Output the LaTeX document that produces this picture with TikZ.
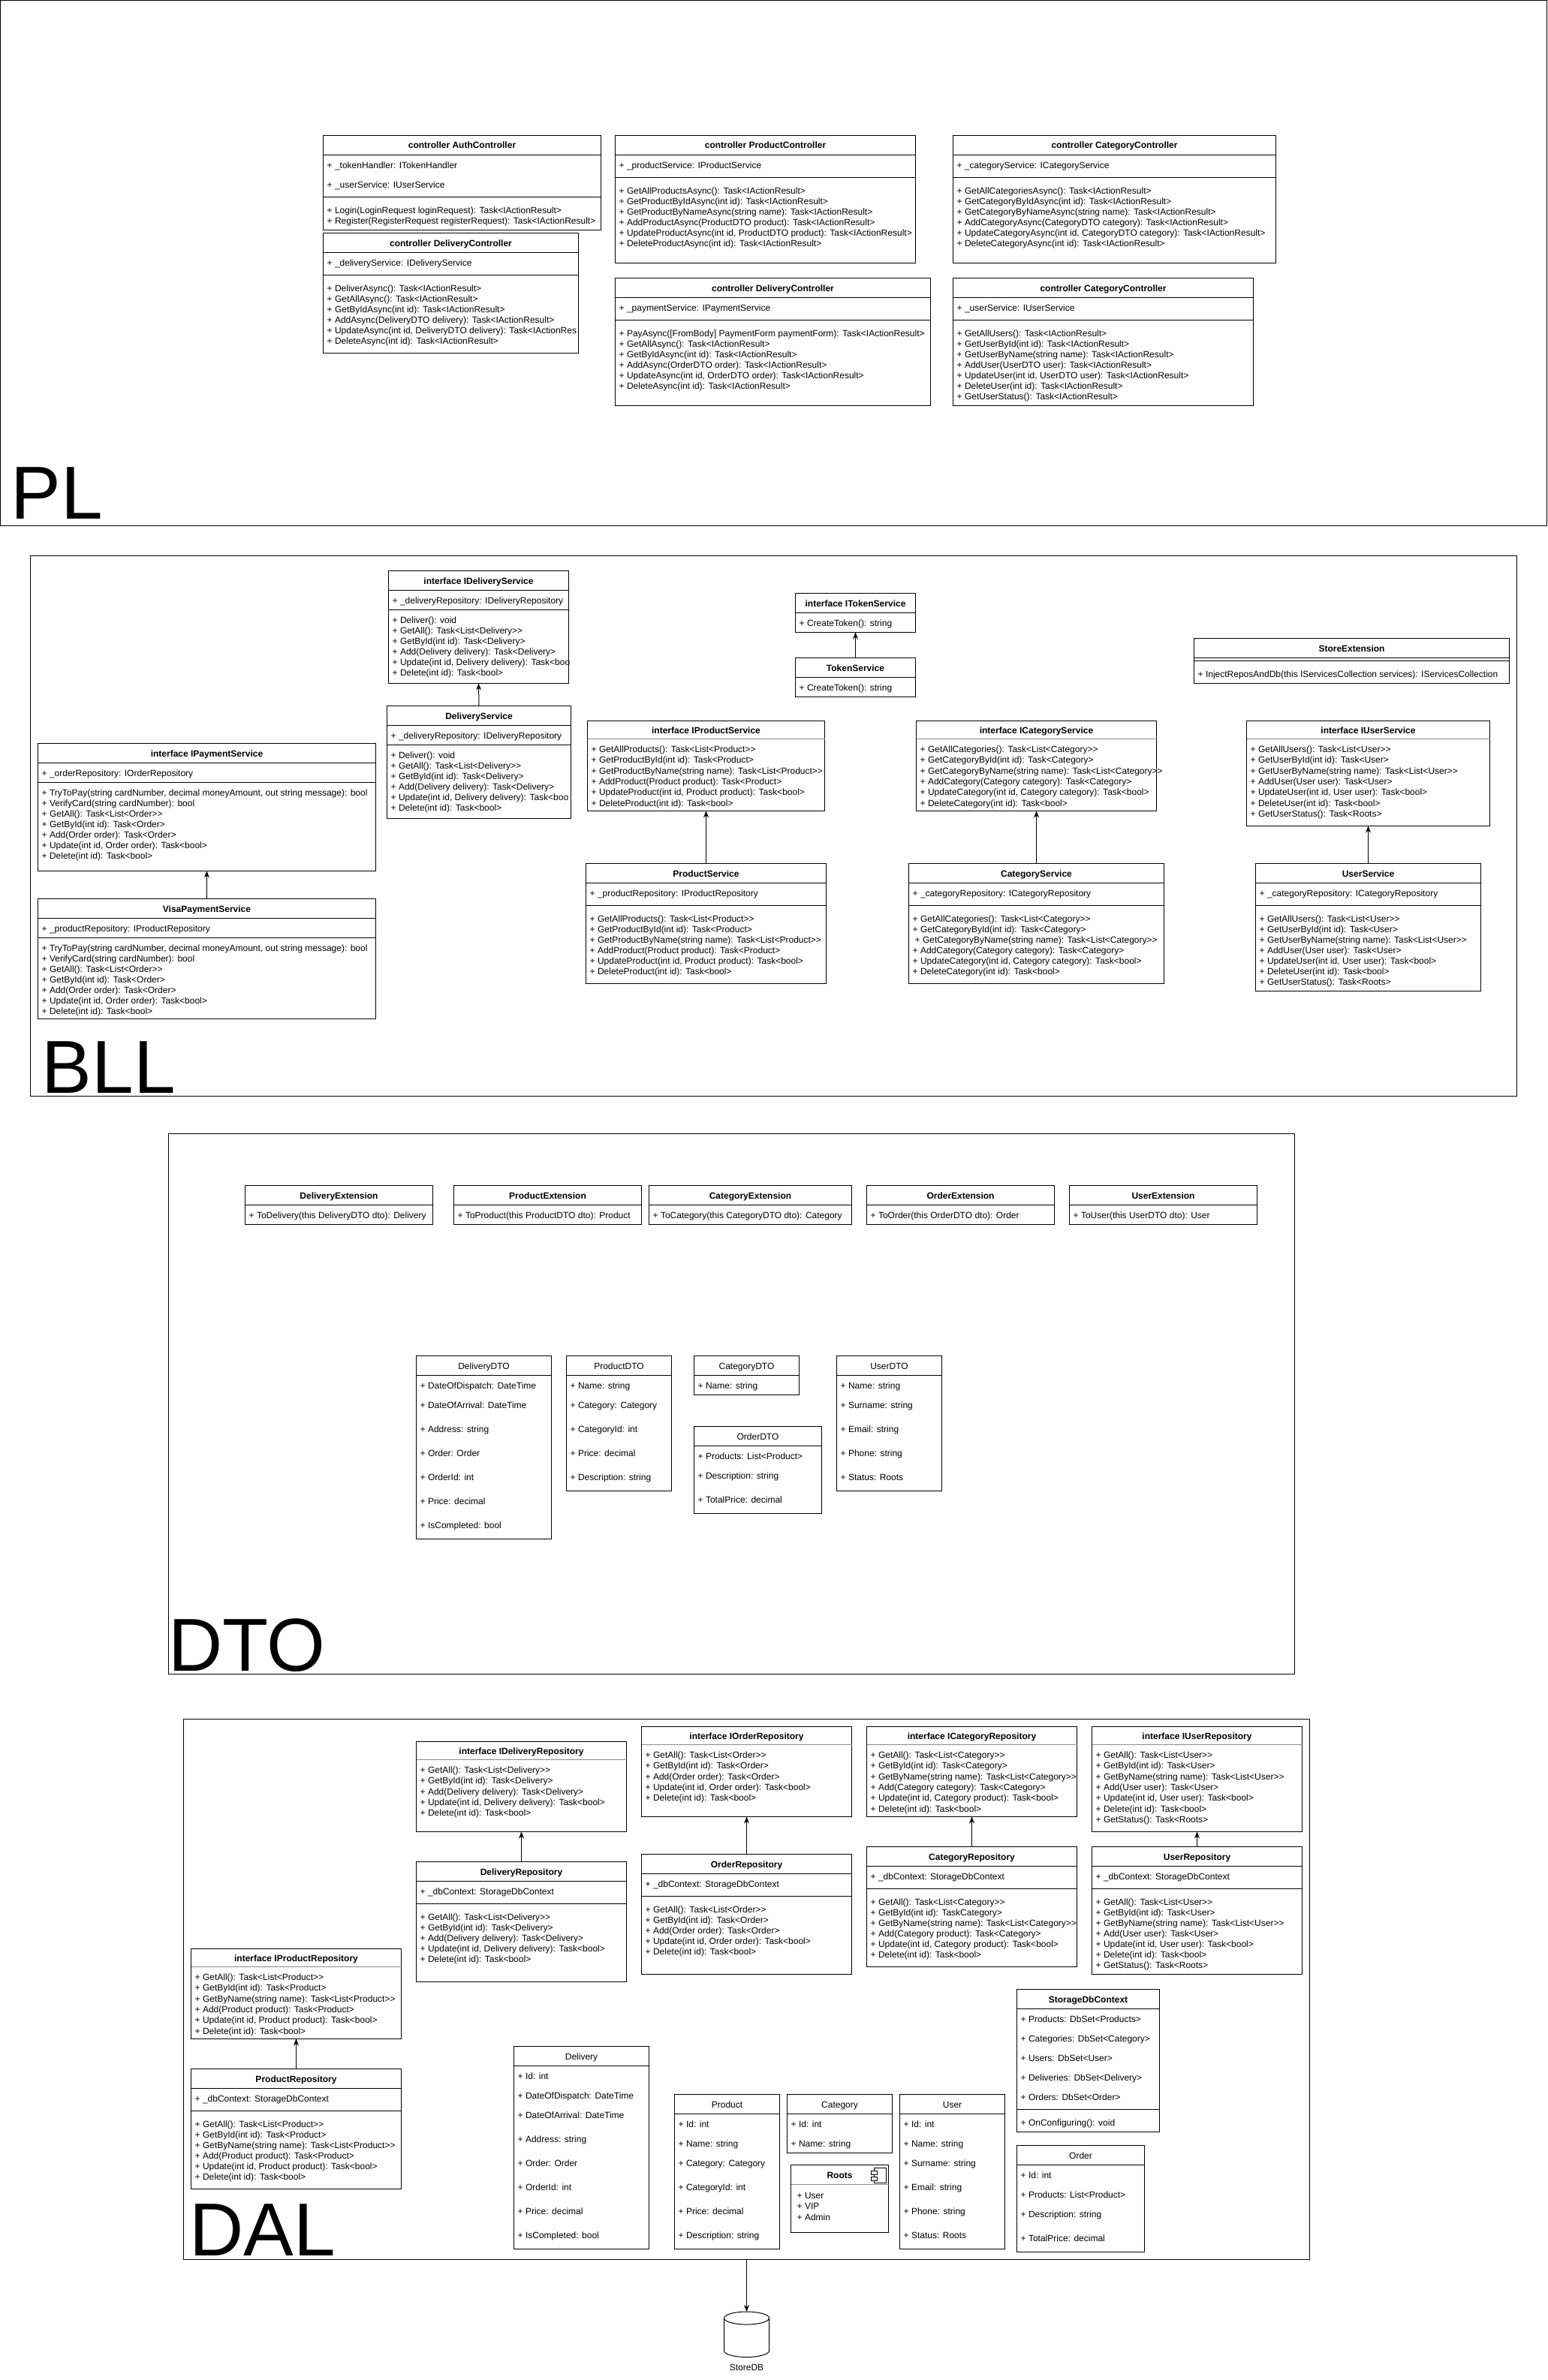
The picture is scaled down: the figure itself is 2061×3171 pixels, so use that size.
\documentclass[tikz,border=0pt]{standalone}
\usepackage{fontspec}
\usepackage{xcolor}
\usetikzlibrary{arrows.meta}
\newfontfamily\umlfont{Liberation Sans}
\definecolor{softrule}{HTML}{8C8C8C}
\tikzset{
  classbox/.style={draw, rectangle, anchor=north west, inner sep=0pt, outer sep=0pt, line width=1pt},
  layerbox/.style={classbox},
  layername/.style={anchor=base west, inner sep=0pt, font=\umlfont\fontsize{100}{100}\selectfont},
  classtitle/.style={inner sep=0pt, text height=11pt, text depth=2pt, font=\umlfont\fontsize{12}{14}\selectfont\bfseries},
  fieldtext/.style={anchor=north west, inner sep=0pt, align=left, font=\umlfont\fontsize{12}{14}\selectfont},
  blackrule/.style={line width=1pt},
  greyrule/.style={line width=1pt, color=softrule},
  realizes/.style={line width=1pt, -{Stealth[length=9pt, width=7pt]}},
}
\newcommand{\umlclass}[8]{%
  \node[classbox, minimum width=#4, minimum height=#5] (#1) at (#2,#3) {};
  \node[classtitle] (#1-title) at ([shift={(#4/2,#7/2)}]#1.north west) {#6};
  \draw[#8] ([shift={(0,#7)}]#1.north west) -- ([shift={(0,#7)}]#1.north east);
}
\newcommand{\umlrule}[2]{%
  \draw[blackrule] ([shift={(0,#2)}]#1.north west) -- ([shift={(0,#2)}]#1.north east);
}
\newcommand{\umlfield}[4][5]{%
  \node[fieldtext] (#2-f#3) at ([shift={(#1,#3-5.3)}]#2.north west) {\strut #4};
}
\begin{document}
\begin{tikzpicture}[x=1pt, y=-1pt]
  \useasboundingbox (0,0) rectangle (2061,3171);

  \node[layerbox, minimum width=2060, minimum height=700] (plarea) at (0.5,0.5) {};
  \node[layername] (plname) at (14.5,691.5) {PL};
  \node[layerbox, minimum width=1980, minimum height=720] (bllarea) at (40.5,740.5) {};
  \node[layername] (bllname) at (55.5,1456) {BLL};
  \node[layerbox, minimum width=1500, minimum height=720] (dtoarea) at (224.5,1510.5) {};
  \node[layername] (dtoname) at (224,2226) {DTO};
  \node[layerbox, minimum width=1500, minimum height=720] (dalarea) at (244.5,2290.5) {};
  \node[layername] (dalname) at (252,3005.5) {DAL};

  \umlclass{authctrl}{430.5}{180.5}{370}{126}{controller AuthController}{26}{blackrule}
  \umlrule{authctrl}{82}
  \umlfield{authctrl}{39.5}{+ \_tokenHandler: ITokenHandler\\[12pt]+ \_userService: IUserService}
  \umlfield{authctrl}{99.5}{+ Login(LoginRequest loginRequest): Task<IActionResult>\\+ Register(RegisterRequest registerRequest): Task<IActionResult>}

  \umlclass{deliveryctrl}{430.5}{310.5}{340}{160}{controller DeliveryController}{26}{blackrule}
  \umlrule{deliveryctrl}{56}
  \umlfield{deliveryctrl}{39.5}{+ \_deliveryService: IDeliveryService}
  \umlfield{deliveryctrl}{73.5}{+ DeliverAsync(): Task<IActionResult>\\+ GetAllAsync(): Task<IActionResult>\\+ GetByIdAsync(int id): Task<IActionResult>\\+ AddAsync(DeliveryDTO delivery): Task<IActionResult>\\+ UpdateAsync(int id, DeliveryDTO delivery): Task<IActionRes\\+ DeleteAsync(int id): Task<IActionResult>}

  \umlclass{productctrl}{819.5}{180.5}{400}{170}{controller ProductController}{26}{blackrule}
  \umlrule{productctrl}{56}
  \umlfield{productctrl}{39.5}{+ \_productService: IProductService}
  \umlfield{productctrl}{73.5}{+ GetAllProductsAsync(): Task<IActionResult>\\+ GetProductByIdAsync(int id): Task<IActionResult>\\+ GetProductByNameAsync(string name): Task<IActionResult>\\+ AddProductAsync(ProductDTO product): Task<IActionResult>\\+ UpdateProductAsync(int id, ProductDTO product): Task<IActionResult>\\+ DeleteProductAsync(int id): Task<IActionResult>}

  \umlclass{paymentctrl}{819.5}{370.5}{420}{170}{controller DeliveryController}{26}{blackrule}
  \umlrule{paymentctrl}{56}
  \umlfield{paymentctrl}{39.5}{+ \_paymentService: IPaymentService}
  \umlfield{paymentctrl}{73.5}{+ PayAsync([FromBody] PaymentForm paymentForm): Task<IActionResult>\\+ GetAllAsync(): Task<IActionResult>\\+ GetByIdAsync(int id): Task<IActionResult>\\+ AddAsync(OrderDTO order): Task<IActionResult>\\+ UpdateAsync(int id, OrderDTO order): Task<IActionResult>\\+ DeleteAsync(int id): Task<IActionResult>}

  \umlclass{categoryctrl}{1269.5}{180.5}{430}{170}{controller CategoryController}{26}{blackrule}
  \umlrule{categoryctrl}{56}
  \umlfield{categoryctrl}{39.5}{+ \_categoryService: ICategoryService}
  \umlfield{categoryctrl}{73.5}{+ GetAllCategoriesAsync(): Task<IActionResult>\\+ GetCategoryByIdAsync(int id): Task<IActionResult>\\+ GetCategoryByNameAsync(string name): Task<IActionResult>\\+ AddCategoryAsync(CategoryDTO category): Task<IActionResult>\\+ UpdateCategoryAsync(int id, CategoryDTO category): Task<IActionResult>\\+ DeleteCategoryAsync(int id): Task<IActionResult>}

  \umlclass{userctrl}{1269.5}{370.5}{400}{170}{controller CategoryController}{26}{blackrule}
  \umlrule{userctrl}{56}
  \umlfield{userctrl}{39.5}{+ \_userService: IUserService}
  \umlfield{userctrl}{73.5}{+ GetAllUsers(): Task<IActionResult>\\+ GetUserById(int id): Task<IActionResult>\\+ GetUserByName(string name): Task<IActionResult>\\+ AddUser(UserDTO user): Task<IActionResult>\\+ UpdateUser(int id, UserDTO user): Task<IActionResult>\\+ DeleteUser(int id): Task<IActionResult>\\+ GetUserStatus(): Task<IActionResult>}

  \umlclass{ideliverysvc}{517.5}{760.5}{240}{150}{interface IDeliveryService}{26}{blackrule}
  \umlrule{ideliverysvc}{52}
  \umlfield{ideliverysvc}{39.5}{+ \_deliveryRepository: IDeliveryRepository}
  \umlfield{ideliverysvc}{65.5}{+ Deliver(): void\\+ GetAll(): Task<List<Delivery>>\\+ GetById(int id): Task<Delivery>\\+ Add(Delivery delivery): Task<Delivery>\\+ Update(int id, Delivery delivery): Task<boo\\+ Delete(int id): Task<bool>}

  \umlclass{deliverysvc}{515.5}{940.5}{245}{150}{DeliveryService}{26}{blackrule}
  \umlrule{deliverysvc}{52}
  \umlfield{deliverysvc}{39.5}{+ \_deliveryRepository: IDeliveryRepository}
  \umlfield{deliverysvc}{65.5}{+ Deliver(): void\\+ GetAll(): Task<List<Delivery>>\\+ GetById(int id): Task<Delivery>\\+ Add(Delivery delivery): Task<Delivery>\\+ Update(int id, Delivery delivery): Task<boo\\+ Delete(int id): Task<bool>}

  \umlclass{ipaymentsvc}{50.5}{990.5}{450}{170}{interface IPaymentService}{26}{blackrule}
  \umlrule{ipaymentsvc}{52}
  \umlfield{ipaymentsvc}{39.5}{+ \_orderRepository: IOrderRepository}
  \umlfield{ipaymentsvc}{65.5}{+ TryToPay(string cardNumber, decimal moneyAmount, out string message): bool\\+ VerifyCard(string cardNumber): bool\\+ GetAll(): Task<List<Order>>\\+ GetById(int id): Task<Order>\\+ Add(Order order): Task<Order>\\+ Update(int id, Order order): Task<bool>\\+ Delete(int id): Task<bool>}

  \umlclass{visasvc}{50.5}{1197.5}{450}{160}{VisaPaymentService}{26}{blackrule}
  \umlrule{visasvc}{52}
  \umlfield{visasvc}{39.5}{+ \_productRepository: IProductRepository}
  \umlfield{visasvc}{65.5}{+ TryToPay(string cardNumber, decimal moneyAmount, out string message): bool\\+ VerifyCard(string cardNumber): bool\\+ GetAll(): Task<List<Order>>\\+ GetById(int id): Task<Order>\\+ Add(Order order): Task<Order>\\+ Update(int id, Order order): Task<bool>\\+ Delete(int id): Task<bool>}

  \umlclass{iproductsvc}{782.5}{960.5}{316}{120}{interface IProductService}{24}{greyrule}
  \umlfield{iproductsvc}{37}{+ GetAllProducts(): Task<List<Product>>\\[0.4pt]+ GetProductById(int id): Task<Product>\\[0.4pt]+ GetProductByName(string name): Task<List<Product>>\\[0.4pt]+ AddProduct(Product product): Task<Product>\\[0.4pt]+ UpdateProduct(int id, Product product): Task<bool>\\[0.4pt]+ DeleteProduct(int id): Task<bool>}

  \umlclass{productsvc}{780.5}{1150.5}{320}{160}{ProductService}{26}{blackrule}
  \umlrule{productsvc}{56}
  \umlfield{productsvc}{39.5}{+ \_productRepository: IProductRepository}
  \umlfield{productsvc}{73.5}{+ GetAllProducts(): Task<List<Product>>\\+ GetProductById(int id): Task<Product>\\+ GetProductByName(string name): Task<List<Product>>\\+ AddProduct(Product product): Task<Product>\\+ UpdateProduct(int id, Product product): Task<bool>\\+ DeleteProduct(int id): Task<bool>}

  \umlclass{itokensvc}{1059.5}{790.5}{160}{52}{interface ITokenService}{26}{blackrule}
  \umlfield{itokensvc}{39.5}{+ CreateToken(): string}
  \umlclass{tokensvc}{1059.5}{876.5}{160}{52}{TokenService}{26}{blackrule}
  \umlfield{tokensvc}{39.5}{+ CreateToken(): string}

  \umlclass{storeext}{1590.5}{850.5}{420}{60}{StoreExtension}{26}{blackrule}
  \umlrule{storeext}{30}
  \umlfield{storeext}{47}{+ InjectReposAndDb(this IServicesCollection services): IServicesCollection}

  \umlclass{icategorysvc}{1220.5}{960.5}{320}{120}{interface ICategoryService}{24}{greyrule}
  \umlfield{icategorysvc}{37}{+ GetAllCategories(): Task<List<Category>>\\[0.4pt]+ GetCategoryById(int id): Task<Category>\\[0.4pt]+ GetCategoryByName(string name): Task<List<Category>>\\[0.4pt]+ AddCategory(Category category): Task<Category>\\[0.4pt]+ UpdateCategory(int id, Category category): Task<bool>\\[0.4pt]+ DeleteCategory(int id): Task<bool>}

  \umlclass{categorysvc}{1210.5}{1150.5}{340}{160}{CategoryService}{26}{blackrule}
  \umlrule{categorysvc}{56}
  \umlfield{categorysvc}{39.5}{+ \_categoryRepository: ICategoryRepository}
  \umlfield{categorysvc}{73.5}{+ GetAllCategories(): Task<List<Category>>\\+ GetCategoryById(int id): Task<Category>\\\hspace{3pt}+ GetCategoryByName(string name): Task<List<Category>>\\+ AddCategory(Category category): Task<Category>\\+ UpdateCategory(int id, Category category): Task<bool>\\+ DeleteCategory(int id): Task<bool>}

  \umlclass{iusersvc}{1660.5}{960.5}{324}{140}{interface IUserService}{24}{greyrule}
  \umlfield{iusersvc}{37}{+ GetAllUsers(): Task<List<User>>\\[0.4pt]+ GetUserById(int id): Task<User>\\[0.4pt]+ GetUserByName(string name): Task<List<User>>\\[0.4pt]+ AddUser(User user): Task<User>\\[0.4pt]+ UpdateUser(int id, User user): Task<bool>\\[0.4pt]+ DeleteUser(int id): Task<bool>\\[0.4pt]+ GetUserStatus(): Task<Roots>}

  \umlclass{usersvc}{1672.5}{1150.5}{300}{170}{UserService}{26}{blackrule}
  \umlrule{usersvc}{56}
  \umlfield{usersvc}{39.5}{+ \_categoryRepository: ICategoryRepository}
  \umlfield{usersvc}{73.5}{+ GetAllUsers(): Task<List<User>>\\+ GetUserById(int id): Task<User>\\+ GetUserByName(string name): Task<List<User>>\\+ AddUser(User user): Task<User>\\+ UpdateUser(int id, User user): Task<bool>\\+ DeleteUser(int id): Task<bool>\\+ GetUserStatus(): Task<Roots>}

  \umlclass{deliveryext}{326.5}{1579.5}{250}{52}{DeliveryExtension}{26}{blackrule}
  \umlfield{deliveryext}{39.5}{+ ToDelivery(this DeliveryDTO dto): Delivery}
  \umlclass{productext}{604.5}{1579.5}{250}{52}{ProductExtension}{26}{blackrule}
  \umlfield{productext}{39.5}{+ ToProduct(this ProductDTO dto): Product}
  \umlclass{categoryext}{864.5}{1579.5}{270}{52}{CategoryExtension}{26}{blackrule}
  \umlfield{categoryext}{39.5}{+ ToCategory(this CategoryDTO dto): Category}
  \umlclass{orderext}{1154.5}{1579.5}{250}{52}{OrderExtension}{26}{blackrule}
  \umlfield{orderext}{39.5}{+ ToOrder(this OrderDTO dto): Order}
  \umlclass{userext}{1424.5}{1579.5}{250}{52}{UserExtension}{26}{blackrule}
  \umlfield{userext}{39.5}{+ ToUser(this UserDTO dto): User}

  \umlclass{deliverydto}{554.5}{1806.5}{180}{244}{\mdseries DeliveryDTO}{26}{blackrule}
  \umlfield{deliverydto}{39.5}{+ DateOfDispatch: DateTime\\[12pt]+ DateOfArrival: DateTime\\[18pt]+ Address: string\\[18pt]+ Order: Order\\[18pt]+ OrderId: int\\[18pt]+ Price: decimal\\[18pt]+ IsCompleted: bool}
  \umlclass{productdto}{754.5}{1806.5}{140}{180}{\mdseries ProductDTO}{26}{blackrule}
  \umlfield{productdto}{39.5}{+ Name: string\\[12pt]+ Category: Category\\[18pt]+ CategoryId: int\\[18pt]+ Price: decimal\\[18pt]+ Description: string}
  \umlclass{categorydto}{924.5}{1806.5}{140}{52}{\mdseries CategoryDTO}{26}{blackrule}
  \umlfield{categorydto}{39.5}{+ Name: string}
  \umlclass{orderdto}{924.5}{1900.5}{170}{116}{\mdseries OrderDTO}{26}{blackrule}
  \umlfield{orderdto}{39.5}{+ Products: List<Product>\\[12pt]+ Description: string\\[18pt]+ TotalPrice: decimal}
  \umlclass{userdto}{1114.5}{1806.5}{140}{180}{\mdseries UserDTO}{26}{blackrule}
  \umlfield{userdto}{39.5}{+ Name: string\\[12pt]+ Surname: string\\[18pt]+ Email: string\\[18pt]+ Phone: string\\[18pt]+ Status: Roots}

  \umlclass{ideliveryrepo}{554.5}{2320.5}{280}{120}{interface IDeliveryRepository}{24}{greyrule}
  \umlfield{ideliveryrepo}{37}{+ GetAll(): Task<List<Delivery>>\\[0.4pt]+ GetById(int id): Task<Delivery>\\[0.4pt]+ Add(Delivery delivery): Task<Delivery>\\[0.4pt]+ Update(int id, Delivery delivery): Task<bool>\\[0.4pt]+ Delete(int id): Task<bool>}
  \umlclass{deliveryrepo}{554.5}{2480.5}{280}{160}{DeliveryRepository}{26}{blackrule}
  \umlrule{deliveryrepo}{56}
  \umlfield{deliveryrepo}{39.5}{+ \_dbContext: StorageDbContext}
  \umlfield{deliveryrepo}{73.5}{+ GetAll(): Task<List<Delivery>>\\+ GetById(int id): Task<Delivery>\\+ Add(Delivery delivery): Task<Delivery>\\+ Update(int id, Delivery delivery): Task<bool>\\+ Delete(int id): Task<bool>}

  \umlclass{iorderrepo}{854.5}{2300.5}{280}{120}{interface IOrderRepository}{24}{greyrule}
  \umlfield{iorderrepo}{37}{+ GetAll(): Task<List<Order>>\\[0.4pt]+ GetById(int id): Task<Order>\\[0.4pt]+ Add(Order order): Task<Order>\\[0.4pt]+ Update(int id, Order order): Task<bool>\\[0.4pt]+ Delete(int id): Task<bool>}
  \umlclass{orderrepo}{854.5}{2470.5}{280}{160}{OrderRepository}{26}{blackrule}
  \umlrule{orderrepo}{56}
  \umlfield{orderrepo}{39.5}{+ \_dbContext: StorageDbContext}
  \umlfield{orderrepo}{73.5}{+ GetAll(): Task<List<Order>>\\+ GetById(int id): Task<Order>\\+ Add(Order order): Task<Order>\\+ Update(int id, Order order): Task<bool>\\+ Delete(int id): Task<bool>}

  \umlclass{icategoryrepo}{1154.5}{2300.5}{280}{120}{interface ICategoryRepository}{24}{greyrule}
  \umlfield{icategoryrepo}{37}{+ GetAll(): Task<List<Category>>\\[0.4pt]+ GetById(int id): Task<Category>\\[0.4pt]+ GetByName(string name): Task<List<Category>>\\[0.4pt]+ Add(Category category): Task<Category>\\[0.4pt]+ Update(int id, Category product): Task<bool>\\[0.4pt]+ Delete(int id): Task<bool>}
  \umlclass{categoryrepo}{1154.5}{2460.5}{280}{160}{CategoryRepository}{26}{blackrule}
  \umlrule{categoryrepo}{56}
  \umlfield{categoryrepo}{39.5}{+ \_dbContext: StorageDbContext}
  \umlfield{categoryrepo}{73.5}{+ GetAll(): Task<List<Category>>\\+ GetById(int id): TaskCategory>\\+ GetByName(string name): Task<List<Category>>\\+ Add(Category product): Task<Category>\\+ Update(int id, Category product): Task<bool>\\+ Delete(int id): Task<bool>}

  \umlclass{iuserrepo}{1454.5}{2300.5}{280}{140}{interface IUserRepository}{24}{greyrule}
  \umlfield{iuserrepo}{37}{+ GetAll(): Task<List<User>>\\[0.4pt]+ GetById(int id): Task<User>\\[0.4pt]+ GetByName(string name): Task<List<User>>\\[0.4pt]+ Add(User user): Task<User>\\[0.4pt]+ Update(int id, User user): Task<bool>\\[0.4pt]+ Delete(int id): Task<bool>\\[0.4pt]+ GetStatus(): Task<Roots>}
  \umlclass{userrepo}{1454.5}{2460.5}{280}{170}{UserRepository}{26}{blackrule}
  \umlrule{userrepo}{56}
  \umlfield{userrepo}{39.5}{+ \_dbContext: StorageDbContext}
  \umlfield{userrepo}{73.5}{+ GetAll(): Task<List<User>>\\+ GetById(int id): Task<User>\\+ GetByName(string name): Task<List<User>>\\+ Add(User user): Task<User>\\+ Update(int id, User user): Task<bool>\\+ Delete(int id): Task<bool>\\+ GetStatus(): Task<Roots>}

  \umlclass{iproductrepo}{254.5}{2596.5}{280}{120}{interface IProductRepository}{24}{greyrule}
  \umlfield{iproductrepo}{37}{+ GetAll(): Task<List<Product>>\\[0.4pt]+ GetById(int id): Task<Product>\\[0.4pt]+ GetByName(string name): Task<List<Product>>\\[0.4pt]+ Add(Product product): Task<Product>\\[0.4pt]+ Update(int id, Product product): Task<bool>\\[0.4pt]+ Delete(int id): Task<bool>}
  \umlclass{productrepo}{254.5}{2756.5}{280}{160}{ProductRepository}{26}{blackrule}
  \umlrule{productrepo}{56}
  \umlfield{productrepo}{39.5}{+ \_dbContext: StorageDbContext}
  \umlfield{productrepo}{73.5}{+ GetAll(): Task<List<Product>>\\+ GetById(int id): Task<Product>\\+ GetByName(string name): Task<List<Product>>\\+ Add(Product product): Task<Product>\\+ Update(int id, Product product): Task<bool>\\+ Delete(int id): Task<bool>}

  \umlclass{deliveryent}{684.5}{2726.5}{180}{270}{\mdseries Delivery}{26}{blackrule}
  \umlfield{deliveryent}{39.5}{+ Id: int\\[12pt]+ DateOfDispatch: DateTime\\[12pt]+ DateOfArrival: DateTime\\[18pt]+ Address: string\\[18pt]+ Order: Order\\[18pt]+ OrderId: int\\[18pt]+ Price: decimal\\[18pt]+ IsCompleted: bool}
  \umlclass{productent}{898.5}{2790.5}{140}{206}{\mdseries Product}{26}{blackrule}
  \umlfield{productent}{39.5}{+ Id: int\\[12pt]+ Name: string\\[12pt]+ Category: Category\\[18pt]+ CategoryId: int\\[18pt]+ Price: decimal\\[18pt]+ Description: string}
  \umlclass{categoryent}{1048.5}{2790.5}{140}{78}{\mdseries Category}{26}{blackrule}
  \umlfield{categoryent}{39.5}{+ Id: int\\[12pt]+ Name: string}
  \umlclass{rootsenum}{1053.5}{2884.5}{130}{90}{Roots}{26}{greyrule}
  \umlfield[8]{rootsenum}{40}{+ User\\[0.4pt]+ VIP\\[0.4pt]+ Admin}
  \draw[line width=1pt] (1164,2888.5) rectangle (1180,2908.5);
  \draw[line width=1pt, fill=white] (1160,2892.5) rectangle (1168,2897.5);
  \draw[line width=1pt, fill=white] (1160,2900) rectangle (1168,2905);
  \umlclass{userent}{1198.5}{2790.5}{140}{206}{\mdseries User}{26}{blackrule}
  \umlfield{userent}{39.5}{+ Id: int\\[12pt]+ Name: string\\[12pt]+ Surname: string\\[18pt]+ Email: string\\[18pt]+ Phone: string\\[18pt]+ Status: Roots}
  \umlclass{storagectx}{1354.5}{2650.5}{190}{190}{StorageDbContext}{26}{blackrule}
  \umlrule{storagectx}{160}
  \umlfield{storagectx}{39.5}{+ Products: DbSet<Products>\\[12pt]+ Categories: DbSet<Category>\\[12pt]+ Users: DbSet<User>\\[12pt]+ Deliveries: DbSet<Delivery>\\[12pt]+ Orders: DbSet<Order>}
  \umlfield{storagectx}{177.5}{+ OnConfiguring(): void}
  \umlclass{orderent}{1354.5}{2858.5}{170}{142}{\mdseries Order}{26}{blackrule}
  \umlfield{orderent}{39.5}{+ Id: int\\[12pt]+ Products: List<Product>\\[12pt]+ Description: string\\[18pt]+ TotalPrice: decimal}

  \node[inner sep=0pt, outer sep=0pt, minimum width=60, minimum height=60.5] (storedb) at (994.5,3110.25) {};
  \draw[line width=1pt] (994.5,3088.5) ellipse [x radius=30pt, y radius=8.5pt];
  \draw[line width=1pt] (964.5,3088.5) -- (964.5,3132) .. controls (964.5,3136.7) and (977.9,3140.5) .. (994.5,3140.5)
    .. controls (1011.1,3140.5) and (1024.5,3136.7) .. (1024.5,3132) -- (1024.5,3088.5);
  \node[inner sep=0pt, text height=11pt, text depth=2pt, font=\umlfont\fontsize{12}{14}\selectfont] (storedblabel) at (994.5,3153.5) {StoreDB};

  \draw[realizes] (deliverysvc.north) -- (ideliverysvc.south);
  \draw[realizes] (visasvc.north) -- (ipaymentsvc.south);
  \draw[realizes] (productsvc.north) -- (iproductsvc.south);
  \draw[realizes] (tokensvc.north) -- (itokensvc.south);
  \draw[realizes] (categorysvc.north) -- (icategorysvc.south);
  \draw[realizes] (usersvc.north) -- (iusersvc.south);
  \draw[realizes] (deliveryrepo.north) -- (ideliveryrepo.south);
  \draw[realizes] (orderrepo.north) -- (iorderrepo.south);
  \draw[realizes] (categoryrepo.north) -- (icategoryrepo.south);
  \draw[realizes] (userrepo.north) -- (iuserrepo.south);
  \draw[realizes] (productrepo.north) -- (iproductrepo.south);
  \draw[realizes] (dalarea.south) -- (storedb.north);
\end{tikzpicture}
\end{document}
